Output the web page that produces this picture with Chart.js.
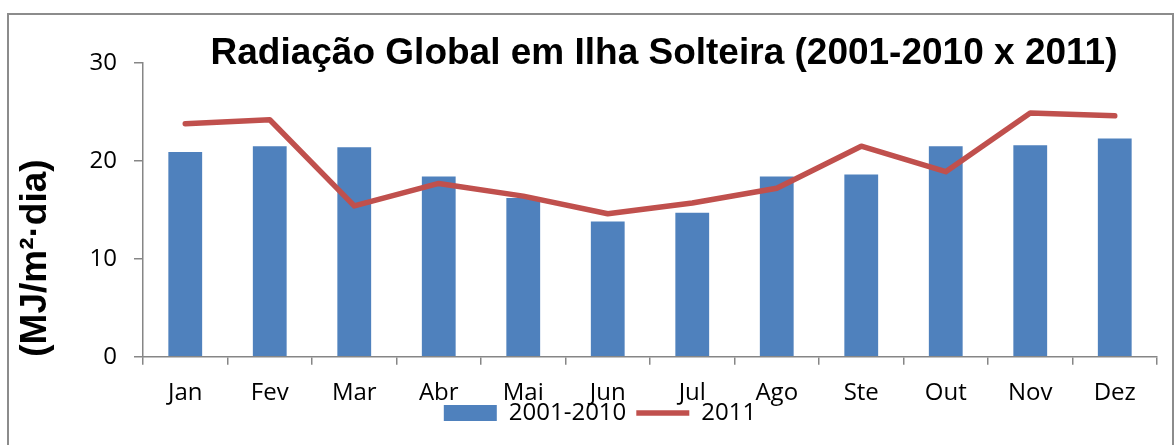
<!DOCTYPE html>
<html lang="pt-BR">
<head>
<meta charset="UTF-8">
<title>Radiação Global em Ilha Solteira</title>
<script src="https://cdn.jsdelivr.net/npm/chart.js@4.4.1/dist/chart.umd.min.js"></script>
<style>
    body { margin: 0; background: #fff; }
    #contenedor { position: relative; width: 1174px; height: 445px; }
    #moldura { position: absolute; left: 7px; top: 13px; width: 1163px; height: 440px; border: 2px solid #8c8c8c; }
</style>
</head>
<body>
<div id="contenedor">
    <div id="moldura"></div>
    <canvas id="grafico-radiacao"></canvas>
</div>
<script>
// ==================== DADOS ====================
const meses = ['Jan', 'Fev', 'Mar', 'Abr', 'Mai', 'Jun', 'Jul', 'Ago', 'Ste', 'Out', 'Nov', 'Dez'];
const media2001a2010 = [20.9, 21.5, 21.4, 18.4, 16.2, 13.8, 14.7, 18.4, 18.6, 21.5, 21.6, 22.3];
const valores2011 = [23.8, 24.2, 15.4, 17.7, 16.4, 14.6, 15.7, 17.2, 21.5, 18.9, 24.9, 24.6];
const marcasY = [0, 10, 20, 30];

const TITULO = 'Radiação Global em Ilha Solteira (2001-2010 x 2011)';
const FONTE_TEXTO = '"Open Sans", "Noto Sans", sans-serif';
const FONTE_NEGRITO = '"Liberation Sans", Arial, sans-serif';
const COR_EIXO = '#868686';

// O título fica um pouco deslocado à direita, por isso é desenhado à mão
const tituloPlugin = {
    id: 'tituloGrafico',
    afterDraw(chart) {
        const ctx = chart.ctx;
        const area = chart.chartArea;
        ctx.save();
        ctx.font = 'bold 37px ' + FONTE_NEGRITO;
        ctx.fillStyle = '#000';
        ctx.textAlign = 'center';
        ctx.textBaseline = 'alphabetic';
        ctx.fillText(TITULO, (area.left + area.right) / 2 + 14, 64);
        ctx.restore();
    }
};

// A legenda no original fica quase encostada nos rótulos dos meses
const subirLegenda = {
    id: 'subirLegenda',
    afterLayout(chart) {
        chart.legend.top -= 24;
        chart.legend.bottom -= 24;
    }
};

function crearGrafico() {
    const ctx = document.getElementById('grafico-radiacao').getContext('2d');

    return new Chart(ctx, {
        type: 'bar',
        data: {
            labels: meses,
            datasets: [{
                type: 'bar',
                label: '2001-2010',
                data: media2001a2010,
                backgroundColor: '#4F81BD',
                borderWidth: 0,
                barPercentage: 0.4,
                categoryPercentage: 1,
                pointStyle: 'rect',
                order: 1
            }, {
                type: 'line',
                label: '2011',
                data: valores2011,
                borderColor: '#C0504D',
                backgroundColor: '#C0504D',
                borderWidth: 5.5,
                borderCapStyle: 'round',
                borderJoinStyle: 'round',
                tension: 0,
                pointRadius: 0,
                pointHoverRadius: 0,
                pointStyle: 'line',
                order: 0 // linha por cima das barras
            }]
        },
        options: {
            responsive: true,
            maintainAspectRatio: false,
            animation: false,
            layout: {
                padding: { top: 63, left: 43, right: 17, bottom: 0 }
            },
            plugins: {
                title: { display: false },
                tooltip: { enabled: false },
                legend: {
                    position: 'bottom',
                    maxHeight: 30,
                    labels: {
                        usePointStyle: true,
                        pointStyleWidth: 53,
                        boxHeight: 16,
                        padding: 10,
                        color: '#000',
                        font: { family: FONTE_TEXTO, size: 24 },
                        sort: (a, b) => a.datasetIndex - b.datasetIndex
                    }
                }
            },
            scales: {
                x: {
                    grid: {
                        display: true,
                        offset: true,
                        drawOnChartArea: false,
                        drawTicks: true,
                        tickLength: 8,
                        color: COR_EIXO,
                        lineWidth: 1.5
                    },
                    border: { display: true, color: COR_EIXO, width: 1.5 },
                    ticks: {
                        color: '#000',
                        padding: 14,
                        font: { family: FONTE_TEXTO, size: 24 }
                    },
                    afterFit: (eixo) => { eixo.height = 58.3; }
                },
                y: {
                    min: 0,
                    max: 30,
                    afterBuildTicks: (eixo) => { eixo.ticks = marcasY.map(v => ({ value: v })); },
                    grid: {
                        display: true,
                        drawOnChartArea: false,
                        drawTicks: true,
                        tickLength: 9,
                        color: COR_EIXO,
                        lineWidth: 1.5
                    },
                    border: { display: true, color: COR_EIXO, width: 1.5 },
                    ticks: {
                        color: '#000',
                        padding: 17,
                        font: { family: FONTE_TEXTO, size: 24 }
                    },
                    title: {
                        display: true,
                        text: '(MJ/m²·dia)',
                        align: 'start',
                        color: '#000',
                        padding: { top: -29, bottom: 0 },
                        font: { family: FONTE_NEGRITO, size: 37, weight: 'bold' }
                    },
                    afterFit: (eixo) => { eixo.width = 100; }
                }
            }
        },
        plugins: [tituloPlugin, subirLegenda]
    });
}

document.addEventListener('DOMContentLoaded', () => {
    crearGrafico();
});
</script>
</body>
</html>
